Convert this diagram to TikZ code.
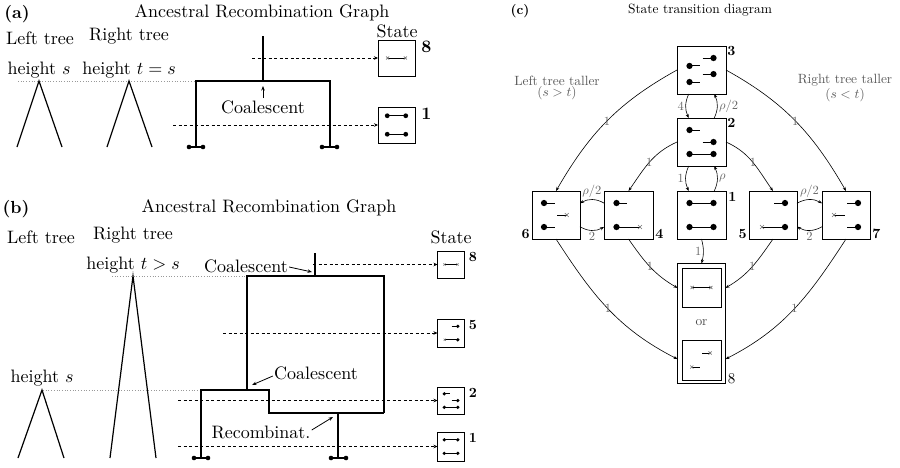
\documentclass[tikz,border=0pt]{standalone}
\usetikzlibrary{arrows.meta}

% --- lineage glyphs drawn inside a state box (box half-size = 1 unit) ---
\newcommand{\stateart}[3]{\begin{scope}[shift={(#1)}, x=#2pt, y=-#2pt]\def\gsz{#2}#3\end{scope}}
\newcommand{\gdot}[2]{\fill (#1,#2) circle[radius={0.13*\gsz*1pt}];}
\newcommand{\gcross}[2]{\draw[black!55, line width=0.6pt] (#1,#2) +(-0.08,-0.08) -- +(0.08,0.08) +(-0.08,0.08) -- +(0.08,-0.08);}
\newcommand{\gline}[3]{\draw[line width=1pt] (#1,#3) -- (#2,#3);}
\newcommand{\gleft}[1]{\gline{-0.5}{-0.05}{#1}\gdot{-0.5}{#1}}
\newcommand{\gright}[1]{\gline{0.05}{0.5}{#1}\gdot{0.5}{#1}}
\newcommand{\gboth}[1]{\gline{-0.5}{0.5}{#1}\gdot{-0.5}{#1}\gdot{0.5}{#1}}
\newcommand{\stOne}{\gboth{-0.5}\gboth{0.5}}
\newcommand{\stTwo}{\gleft{-0.5}\gright{0}\gboth{0.5}}
\newcommand{\stThree}{\gright{-0.5}\gleft{-0.17}\gright{0.17}\gleft{0.5}}
\newcommand{\stFour}{\gleft{-0.5}\gline{-0.5}{0.48}{0.5}\gdot{-0.5}{0.5}\gcross{0.48}{0.5}}
\newcommand{\stFive}{\gright{-0.5}\gline{-0.46}{0.5}{0.5}\gdot{0.5}{0.5}\gcross{-0.46}{0.5}}
\newcommand{\stSix}{\gleft{-0.5}\gline{0.05}{0.45}{0}\gcross{0.45}{0}\gleft{0.5}}
\newcommand{\stSeven}{\gright{-0.5}\gline{-0.5}{-0.05}{0}\gcross{-0.5}{0}\gright{0.5}}
\newcommand{\stEight}{\draw[line width=0.7pt] (-0.48,0) -- (0.48,0);\gcross{-0.48}{0}\gcross{0.48}{0}}
\newcommand{\stEightB}{\draw[line width=0.8pt] (0.03,-0.36) -- (0.44,-0.36);\gcross{0.44}{-0.36}%
  \draw[line width=0.8pt] (-0.5,0.36) -- (-0.08,0.36);\gcross{-0.5}{0.36}}
% leaf of the ARG: two sampled ends joined
\newcommand{\leafpair}[3]{\draw[line width=1.1pt] (#1,#3) -- (#2,#3);
  \fill (#1,#3) circle[radius=2.3pt] (#2,#3) circle[radius=2.3pt];}

\begin{document}
\begin{tikzpicture}[x=1pt,y=-1pt,
  big/.style={font=\fontsize{10}{12}\selectfont, scale=1.8, inner sep=0pt},
  bigb/.style={font=\fontsize{10}{12}\selectfont\bfseries, scale=1.75, inner sep=0pt},
  mid/.style={font=\fontsize{10}{12}\selectfont, scale=1.34, inner sep=0pt},
  midb/.style={font=\fontsize{10}{12}\selectfont\bfseries, scale=1.4, inner sep=0pt},
  rate/.style={font=\fontsize{10}{12}\selectfont, scale=1.25, text=black!60, inner sep=1.2pt},
  argline/.style={line width=1.1pt},
  treeline/.style={line width=1.2pt},
  guide/.style={dotted, black!40, line width=0.7pt},
  dasharrow/.style={dash pattern=on 3pt off 2.5pt, line width=0.8pt, -{Stealth[length=4pt,width=3.5pt]}},
  note/.style={line width=0.8pt, -{Stealth[length=4.5pt,width=3.5pt]}},
  statebox/.style={draw, line width=1pt, inner sep=0pt, outer sep=0pt},
  edge/.style={line width=0.6pt, -{Stealth[length=4pt,width=3pt]}},
]
\useasboundingbox (0,0) rectangle (900,467);

%================ (a) =================
\node[bigb] (alab) at (17,14) {(a)};
\node[big] (atitle) at (262,13) {Ancestral Recombination Graph};
\node[big] (aleft) at (40,38) {Left tree};
\node[big] (aright) at (129,36) {Right tree};
\node[big] (astate) at (397,31) {State};
\node[big] (ahs) at (39,70) {height $s$};
\node[big] (aht) at (129,70) {height $t=s$};

\draw[guide] (18,81) -- (197,81);
\draw[treeline] (17,147) -- (39,81) -- (62,147);
\draw[treeline] (107,147) -- (129,81) -- (152,147);

\draw[argline] (196,147) -- (196,81) -- (330,81) -- (330,147);
\draw[argline] (263,36) -- (263,81);
\leafpair{189}{203}{147}
\leafpair{322}{337}{147}
\draw[note] (263,98) -- (263,86);
\node[big] (acoal) at (263,107) {Coalescent};

\node[statebox, minimum width=37pt, minimum height=36pt] (a8) at (396.5,58) {};
\node[statebox, minimum width=37pt, minimum height=36pt] (a1) at (396.5,125) {};
\stateart{a8}{18.5}{\stEight}
\stateart{a1}{18.5}{\stOne}
\node[bigb, anchor=north west] (a8n) at ([xshift=6pt,yshift=-1pt]a8.north east) {8};
\node[bigb, anchor=north west] (a1n) at ([xshift=6pt,yshift=-1pt]a1.north east) {1};
\coordinate (a8from) at (252,58);
\coordinate (a1from) at (173,125);
\draw[dasharrow] (a8from) -- (a8.west);
\draw[dasharrow] (a1from) -- (a1.west);

%================ (b) =================
\node[bigb] (blab) at (16,209) {(b)};
\node[big] (btitle) at (269,208) {Ancestral Recombination Graph};
\node[big] (bleft) at (41,237) {Left tree};
\node[big] (bright) at (133,235) {Right tree};
\node[big] (bstate) at (451,237) {State};
\node[big] (bht) at (133,265) {height $t>s$};
\node[big] (bhs) at (42,378) {height $s$};

\draw[guide] (112,276) -- (247,276);
\draw[guide] (43,390) -- (201,390);
\draw[treeline] (18,458) -- (42,390) -- (64,458);
\draw[treeline] (110,458) -- (133,276) -- (156,458);

\draw[argline] (315,253) -- (315,276);
\draw[argline] (247,390) -- (247,276) -- (384,276) -- (384,413);
\draw[argline] (201,458) -- (201,390) -- (269,390) -- (269,413) -- (384,413);
\draw[argline] (338,413) -- (338,458);
\leafpair{194}{208}{458}
\leafpair{331}{346}{458}

\node[big] (bcoal1) at (246,266) {Coalescent};
\node[big] (bcoal2) at (316,373) {Coalescent};
\node[big] (brec) at (261,432) {Recombinat.};
\draw[note] (bcoal1.east) ++(1,1) -- (312,272);
\draw[note] (bcoal2.west) ++(-1,3) -- (252,385);
\draw[note] (brec.east) ++(1,-2) -- (333,417);

\node[statebox, minimum width=27pt, minimum height=27pt] (b8) at (451,264.5) {};
\node[statebox, minimum width=27pt, minimum height=28pt] (b5) at (451,333) {};
\node[statebox, minimum width=27pt, minimum height=27pt] (b2) at (451,400.5) {};
\node[statebox, minimum width=27pt, minimum height=29pt] (b1) at (451,446.5) {};
\stateart{b8}{13.5}{\stEight}
\stateart{b5}{13.5}{\stFive}
\stateart{b2}{13.5}{\stTwo}
\stateart{b1}{13.5}{\stOne}
\node[midb, anchor=north west] (b8n) at ([xshift=4pt,yshift=-1pt]b8.north east) {8};
\node[midb, anchor=north west] (b5n) at ([xshift=4pt,yshift=-1pt]b5.north east) {5};
\node[midb, anchor=north west] (b2n) at ([xshift=4pt,yshift=-1pt]b2.north east) {2};
\node[midb, anchor=north west] (b1n) at ([xshift=4pt,yshift=-1pt]b1.north east) {1};
\coordinate (b8from) at (313,264.5);
\coordinate (b5from) at (223,333);
\coordinate (b2from) at (178,400.5);
\coordinate (b1from) at (178,446.5);
\draw[dasharrow] (b8from) -- (b8.west);
\draw[dasharrow] (b5from) -- (b5.west);
\draw[dasharrow] (b2from) -- (b2.west);
\draw[dasharrow] (b1from) -- (b1.west);

%================ (c) =================
\node[midb, scale=0.96] (clab) at (520,11) {(c)};
\node[mid] (ctitle) at (700,10) {State transition diagram};
\node[mid, align=center, text=black!65, font=\fontsize{10}{8.8}\selectfont] (lt) at (557,88) {Left tree taller\\$(s>t)$};
\node[mid, align=center, text=black!65, font=\fontsize{10}{8.8}\selectfont] (rt) at (845,88) {Right tree taller\\$(s<t)$};

\node[statebox, minimum width=49pt, minimum height=48pt] (s3) at (701.5,70) {};
\node[statebox, minimum width=49pt, minimum height=48pt] (s2) at (701.5,142) {};
\node[statebox, minimum width=49pt, minimum height=48pt] (s1) at (701.5,215) {};
\node[statebox, minimum width=48pt, minimum height=48pt] (s6) at (556,215) {};
\node[statebox, minimum width=49pt, minimum height=48pt] (s4) at (628.5,215) {};
\node[statebox, minimum width=48pt, minimum height=48pt] (s5) at (773,215) {};
\node[statebox, minimum width=48pt, minimum height=48pt] (s7) at (846,215) {};
\node[draw, line width=1.8pt, inner sep=0pt, outer sep=0pt, minimum width=48pt, minimum height=120pt] (s8) at (701.5,323.5) {};
\node[draw, line width=0.9pt, inner sep=0pt, minimum width=39pt, minimum height=39pt] (s8a) at (701.5,287.5) {};
\node[draw, line width=0.9pt, inner sep=0pt, minimum width=39pt, minimum height=40pt] (s8b) at (701.5,360) {};
\node[mid, text=black!70] (oror) at (701.5,323) {or};

\stateart{s3}{24}{\stThree}
\stateart{s2}{24}{\stTwo}
\stateart{s1}{24}{\stOne}
\stateart{s6}{24}{\stSix}
\stateart{s4}{24}{\stFour}
\stateart{s5}{24}{\stFive}
\stateart{s7}{24}{\stSeven}
\stateart{s8a}{19.5}{\stEight}
\stateart{s8b}{19.5}{\stEightB}

\node[midb, anchor=north west] (n3) at ([xshift=1pt]s3.north east) {3};
\node[midb, anchor=north west] (n2) at ([xshift=1pt]s2.north east) {2};
\node[midb, anchor=north west] (n1) at ([xshift=2pt,yshift=-1pt]s1.north east) {1};
\node[midb, anchor=south east] (n6) at ([xshift=-2pt]s6.south west) {6};
\node[midb, anchor=south west] (n4) at ([xshift=2pt]s4.south east) {4};
\node[midb, anchor=south east] (n5) at ([xshift=-2pt]s5.south west) {5};
\node[midb, anchor=south west] (n7) at ([xshift=2pt]s7.south east) {7};
\node[font=\fontsize{10}{12}\selectfont, scale=1.5, inner sep=0pt, anchor=south west] (n8) at ([xshift=2pt,yshift=-1pt]s8.south east) {8};

% outer arcs
\draw[edge] (s3.west) to[out=209,in=60] node[rate,pos=0.5]{1} (s6.north);
\draw[edge] (s3.east) to[out=-29,in=120] node[rate,pos=0.5]{1} (s7.north);
\draw[edge] (s2.west) to[out=204,in=55] node[rate,pos=0.5]{1} (s4.north);
\draw[edge] (s2.east) to[out=-24,in=125] node[rate,pos=0.5]{1} (s5.north);
% vertical pairs
\draw[edge] (s3.242) to[bend right=25] node[rate,left]{4} (s2.118);
\draw[edge] (s2.62) to[bend right=25] node[rate,right]{$\rho/2$} (s3.298);
\draw[edge] (s2.242) to[bend right=25] node[rate,left]{1} (s1.118);
\draw[edge] (s1.62) to[bend right=25] node[rate,right]{$\rho$} (s2.298);
% horizontal pairs
\draw[edge] (s4.154) to[bend right=30] node[rate,above]{$\rho/2$} (s6.26);
\draw[edge] (s6.-26) to[bend right=30] node[rate,below]{2} (s4.206);
\draw[edge] (s5.26) to[bend left=30] node[rate,above]{$\rho/2$} (s7.154);
\draw[edge] (s7.206) to[bend left=30] node[rate,below]{2} (s5.-26);
% into the absorbing state
\draw[edge] (s1.south) to[bend left=15] node[rate,left]{1} (s8.north);
\draw[edge] (s4.south) to[out=-55,in=150] node[rate,pos=0.5]{1} (s8.124);
\draw[edge] (s5.south) to[out=235,in=30] node[rate,pos=0.5]{1} (s8.56);
\draw[edge] (s6.south) to[out=-57,in=153] node[rate,pos=0.5]{1} (s8.236);
\draw[edge] (s7.south) to[out=237,in=27] node[rate,pos=0.5]{1} (s8.304);
\end{tikzpicture}
\end{document}
